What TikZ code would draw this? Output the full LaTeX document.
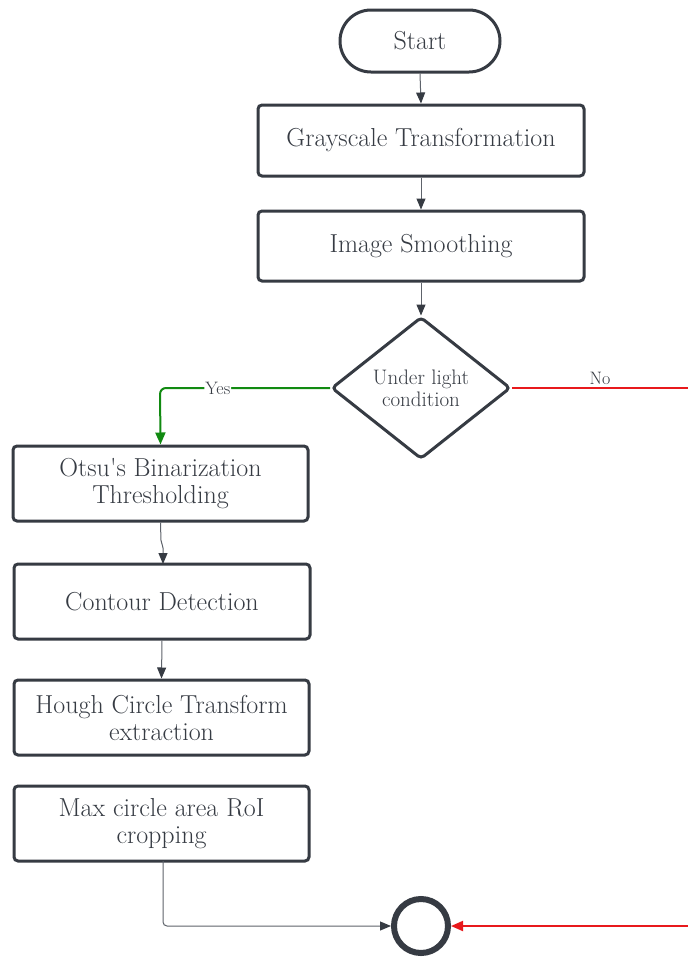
\documentclass[tikz,border=0pt]{standalone}
\usepackage{fontspec}
\usetikzlibrary{arrows.meta,shapes.geometric,positioning}
\definecolor{ink}{HTML}{363B43}
\definecolor{wire}{HTML}{5E636B}
\definecolor{yesgreen}{HTML}{118A11}
\definecolor{nored}{HTML}{E8191C}
\tikzset{
  every node/.style={text=ink},
  procbox/.style={draw=ink, line width=3pt, rounded corners=4pt, minimum width=#1, minimum height=72pt, align=center, font=\fontsize{26}{27}\selectfont, inner sep=0pt},
  procbox/.default=326pt,
  flow/.style={draw=wire, line width=1pt, -{Triangle[length=11pt,width=9pt,color=ink]}},
  lbl/.style={font=\fontsize{18}{19}\selectfont, inner sep=1pt}
}
\begin{document}
\begin{tikzpicture}[x=1pt,y=-1pt]
\useasboundingbox[fill=white] (0,0) rectangle (688,959);

% main column
\node[draw=ink, line width=3pt, rounded corners=31pt, minimum width=160pt, minimum height=62pt, font=\fontsize{26}{27}\selectfont, inner sep=0pt] (start) at (420,41) {Start};
\node[procbox, minimum height=71pt] (gray) at (421,140.5) {Grayscale Transformation};
\node[procbox, minimum height=70pt] (smooth) at (421,246) {Image Smoothing};
\node[draw=ink, line width=3pt, diamond, rounded corners=4pt, minimum width=179pt, minimum height=142pt, aspect=1.26, inner sep=0pt, align=center, font=\fontsize{21}{22}\selectfont] (cond) at (421,388) {Under light\\condition};

% left column
\node[procbox=295pt, minimum height=75pt] (otsu) at (160.5,483.5) {Otsu\textquotesingle s Binarization\\Thresholding};
\node[procbox=296pt, minimum height=75pt] (contour) at (162,601.5) {Contour Detection};
\node[procbox=295pt, minimum height=75pt] (hough) at (161.5,717.5) {Hough Circle Transform\\extraction};
\node[procbox=295pt, minimum height=75pt] (maxc) at (161.5,823.5) {Max circle area RoI\\cropping};

% end marker
\node[circle, draw=ink, line width=6pt, minimum size=54pt, inner sep=0pt] (stop) at (421,926) {};

% connectors
\coordinate (edgeNo) at (688,388);
\coordinate (edgeIn) at (688,926);
\draw[flow] (start.south) -- (gray.north);
\draw[flow] (gray.south) -- (smooth.north);
\draw[flow] (smooth.south) -- (cond.north);
\draw[draw=yesgreen, line width=2pt, rounded corners=6pt, -{Triangle[length=12pt,width=10pt]}] (cond.west) -- (160,388) node[pos=0.66, lbl, fill=white] {Yes} -- (otsu.north);
\draw[draw=nored, line width=2pt] (cond.east) -- (edgeNo) node[pos=0.5, lbl, above=1pt] {No};
\draw[flow, rounded corners=2pt] (otsu.south) -- (161,542) -- (163,546) -- (163,564);
\draw[flow] (contour.south) -- (hough.north);
\draw[flow, rounded corners=4pt] (163,861) -- (163,926) -- (stop.west);
\draw[draw=nored, line width=2pt, -{Triangle[length=12pt,width=10pt]}] (edgeIn) -- (stop.east);
\end{tikzpicture}
\end{document}
